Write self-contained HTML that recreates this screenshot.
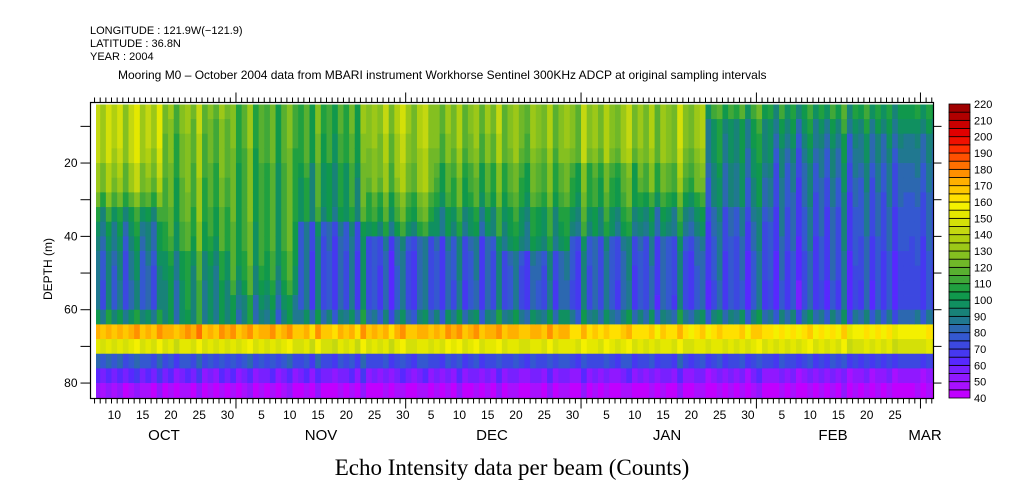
<!DOCTYPE html>
<html><head><meta charset="utf-8"><style>
body{margin:0;background:#fff;width:1009px;height:504px;overflow:hidden}
svg{display:block}
text{font-family:"Liberation Sans",sans-serif;fill:#000}
</style></head><body>
<svg id="chart" width="1009" height="504" viewBox="0 0 1009 504" xmlns="http://www.w3.org/2000/svg">
<g font-size="11">
<text x="90" y="34">LONGITUDE : 121.9W(−121.9)</text>
<text x="90" y="47">LATITUDE : 36.8N</text>
<text x="90" y="60">YEAR : 2004</text>
<text x="118" y="79" font-size="12">Mooring M0 – October 2004 data from MBARI instrument Workhorse Sentinel 300KHz ADCP at original sampling intervals</text>
</g>
<g id="heat" clip-path="url(#clip)"></g>
<defs><clipPath id="clip"><rect x="96" y="104.5" width="837" height="293.5"/></clipPath></defs>
<g id="axes"></g>
<g id="cbar"></g>
<text x="38" y="255" font-size="12" transform="rotate(-90 52 255)" text-anchor="middle">DEPTH (m)</text>
<text x="512" y="475" font-size="23" text-anchor="middle" style="font-family:'Liberation Serif',serif">Echo Intensity data per beam (Counts)</text>
</svg>
<script>
// depth bins (m, top edge) and time segments (day index from Oct 1)
const depthEdges=[4,8,12,16,20,24,28,32,36,40,44,48,52,56,60,64,68,72,76,80,84];
const segStarts=[6,18,30,42,54,66,78,90,102,114,126,138,155];
// values[segment][row]
const seg0=[138,138,138,136,128,126,115,100,92,88,84,82,80,80,95,170,150,78,60,48];
const seg1=[125,122,120,120,118,116,115,112,110,108,100,98,96,96,95,172,150,75,58,45];
const seg2=[115,115,115,112,110,110,110,110,108,108,106,104,100,92,90,172,150,75,57,45];
const seg3=[110,110,108,108,102,100,100,98,80,78,76,76,76,76,88,168,148,73,57,44];
const seg4=[132,132,130,128,126,124,114,110,100,78,76,75,75,75,85,170,150,73,56,44];
const seg5=[125,125,122,120,112,110,106,96,94,78,76,76,75,75,88,172,152,72,55,44];
const seg6=[126,126,125,122,115,114,110,102,100,96,80,78,77,77,92,170,150,74,56,45];
const seg7=[128,128,128,125,112,110,108,100,96,80,78,77,76,76,88,165,152,73,55,44];
const seg8=[128,128,128,125,118,116,105,94,90,78,76,75,75,74,88,163,150,72,55,44];
const seg9=[108,96,95,94,90,88,88,80,78,76,74,74,72,72,88,163,150,72,54,44];
const seg10=[102,94,90,85,82,80,78,76,76,74,72,72,70,70,85,160,150,72,54,44];
const seg11=[102,95,88,86,82,80,78,76,76,74,72,71,70,70,82,158,148,70,52,44];
const segValues=[seg0,seg1,seg2,seg3,seg4,seg5,seg6,seg7,seg8,seg9,seg10,seg11];
// daily anomaly (day 6..154)
const dayAnom=[5,-6,10,-3,8,-10,4,14,-5,2,-8,12,-2,6,-12,3,9,-4,18,-7,1,-9,7,-3,11,-6,2,15,-10,4,
-2,8,-11,3,12,-5,-1,9,-8,16,-4,2,-9,6,-3,10,-7,20,-5,1,-6,8,-12,4,13,-2,-8,6,11,-4,
3,-9,7,-1,14,-6,2,9,-10,5,-3,17,-7,1,8,-5,-11,6,2,-4,12,-8,3,7,-2,-9,15,-3,4,-6,
10,-1,-7,5,13,-8,2,-4,9,-10,6,1,-5,18,-3,-7,4,8,-9,2,11,-6,3,-2,7,-10,5,14,-4,1,
-8,9,-3,6,-11,2,12,-5,4,-7,8,-2,16,-9,3,-1,10,-6,5,-4,7,-8,2,1,0,3,-5,6,-2,1];
// colorbar levels
const levels=[40,45,50,55,60,65,70,75,80,85,90,95,100,105,110,115,120,125,130,135,140,145,150,155,160,165,170,175,180,185,190,195,200,205,210,215,220];
const palette=['#c000ff','#a810ff','#9018ff','#7820ff','#5828ff','#4638f0','#3c48e0','#3458d0','#2c68b0','#207890','#188278','#109060','#10984c','#20a040','#40a838','#58b030','#70b828','#84c020','#9cc818','#b0d010','#c4d810','#d4e008','#e4e800','#f4f000','#ffe000','#ffc800','#ffb000','#ff9000','#ff7000','#ff5000','#ff3000','#f01000','#e00000','#c80000','#b00000','#a00000'];
const cbLabels=[40,50,60,70,80,90,100,110,120,130,140,150,160,170,180,190,200,210,220];
const monthNames=['OCT','NOV','DEC','JAN','FEB','MAR'];
const monthStart=[0,31,61,92,123,152];
const dayLabels=[5,10,15,20,25,30];

const NS='http://www.w3.org/2000/svg';
const X0=60.6,PXD=5.657;
const xs=d=>X0+d*PXD;
const ys=m=>89.7+m*3.667;
function mk(tag,attrs,parent){const e=document.createElementNS(NS,tag);for(const k in attrs)e.setAttribute(k,attrs[k]);parent.appendChild(e);return e;}
function col(v){let i=Math.floor((v-40)/5);i=Math.max(0,Math.min(palette.length-1,i));return palette[i];}

const heat=document.getElementById('heat');
for(let k=0;k<dayAnom.length;k++){
  const d=6+k;
  let s=0;while(s<segStarts.length-2&&d>=segStarts[s+1])s++;
  const vals=segValues[s];
  for(let r=0;r<depthEdges.length-1;r++){
    const f=r<15?1:0.45;
    const v=vals[r]+dayAnom[k]*f;
    const c=mk('rect',{x:xs(d).toFixed(2),y:ys(depthEdges[r]).toFixed(2),width:(PXD+0.4).toFixed(2),height:(ys(depthEdges[r+1])-ys(depthEdges[r])+0.4).toFixed(2),fill:col(v)},heat);
    
    
  }
}

const ax=document.getElementById('axes');
const L=90.5,R=933.5,T=102.5,B=398.5;
const fr=mk('rect',{x:L,y:T,width:R-L,height:B-T,fill:'none',stroke:'#000','stroke-width':1.2},ax);


for(let d=1;d<=154;d++){
  const x=xs(d);if(x<L||x>R)continue;
  const major=monthStart.includes(d);
  const len=major?10:5;
  const tb=mk('line',{x1:x,y1:B,x2:x,y2:B+len,stroke:'#000','stroke-width':1},ax);
  
  
  const tt=mk('line',{x1:x,y1:T,x2:x,y2:T-len,stroke:'#000','stroke-width':1},ax);
  
  
}
for(let m=0;m<monthNames.length-1;m++){
  const len=monthStart[m+1]-monthStart[m];
  dayLabels.forEach(dl=>{
    if(dl>len)return;
    const x=xs(monthStart[m]+dl-0.5);
    if(x<L+8)return;
    const t=mk('text',{x:x,y:419,'font-size':12,'text-anchor':'middle'},ax);
    t.textContent=dl;
    
    
  });
}
const monthX=[164,321,492,667,833,925];
monthNames.forEach((n,i)=>{
  const t=mk('text',{x:monthX[i],y:440,'font-size':15,'text-anchor':'middle'},ax);
  t.textContent=n;
  
  
});
for(let m=10;m<=80;m+=10){
  const y=ys(m);
  const tl=mk('line',{x1:L-10,y1:y,x2:L,y2:y,stroke:'#000','stroke-width':1},ax);
  
  
  const tr=mk('line',{x1:R,y1:y,x2:R+8,y2:y,stroke:'#000','stroke-width':1},ax);
  
  
  if(m%20===0){
    const t=mk('text',{x:L-13,y:y+4,'font-size':12,'text-anchor':'end'},ax);
    t.textContent=m;
    
    
  }
}
const cb=document.getElementById('cbar');
const cT=104,cB=398,cX=949,cW=21;
const bh=(cB-cT)/palette.length;
palette.forEach((c,i)=>{
  const r=mk('rect',{x:cX,y:(cB-(i+1)*bh).toFixed(2),width:cW,height:bh.toFixed(2),fill:c,stroke:'#000','stroke-width':0.8},cb);
  
  
});
cbLabels.forEach(v=>{
  const y=cB-(v-40)/(220-40)*(cB-cT);
  const t=mk('text',{x:974,y:y+4,'font-size':11},cb);
  t.textContent=v;
  
  
});
</script>
</body></html>
